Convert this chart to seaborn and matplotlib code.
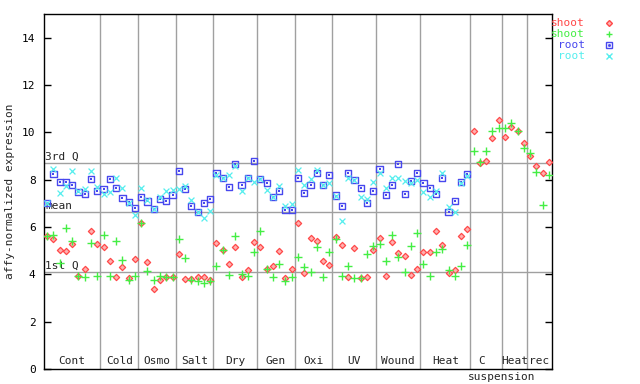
import numpy as np
import pandas as pd
import matplotlib
matplotlib.use('Agg')
import matplotlib.pyplot as plt
import seaborn as sns

# Grupos de condicoes e numero de amostras por grupo
grupos = ['Cont', 'Cold', 'Osmo', 'Salt', 'Dry', 'Gen', 'Oxi', 'UV', 'Wound', 'Heat', 'C', 'Heat', 'rec']
n_amostras = [9, 6, 6, 6, 7, 6, 6, 7, 7, 8, 5, 4, 4]

# Valores (shoot: 2 replicas, root: 2 replicas)
shoot_1 = [5.60, 5.49, 5.04, 4.99, 5.28, 3.91, 4.22, 5.85, 5.28,
           5.15, 4.57, 3.88, 4.30, 3.84, 4.64,
           6.19, 4.53, 3.39, 3.75, 3.88, 3.88,
           4.87, 3.79, 3.79, 3.88, 3.88, 3.74,
           5.32, 5.02, 4.43, 5.15, 3.88, 4.19, 5.36,
           5.15, 4.22, 4.34, 4.98, 3.84, 4.22,
           6.16, 4.05, 5.53, 5.40, 4.56, 4.39,
           5.57, 5.23, 3.88, 5.11, 3.84, 3.88, 5.02,
           5.53, 3.92, 5.36, 4.90, 4.77, 3.96, 4.22,
           4.94, 4.94, 5.82, 5.23, 4.05, 4.17, 5.61, 5.91,
           10.05, 8.72, 8.78, 9.76, 10.52,
           9.80, 10.22, 10.05, 9.54,
           8.99, 8.57, 8.27, 8.74]
shoot_2 = [5.60, 5.68, 4.50, 5.97, 5.39, 3.91, 3.88, 5.32, 3.92,
           5.67, 3.92, 5.39, 4.60, 3.74, 3.92,
           6.19, 4.13, 3.74, 3.92, 3.88, 3.88,
           5.49, 4.68, 3.75, 3.71, 3.62, 3.70,
           4.34, 5.02, 3.96, 5.63, 4.01, 3.92, 4.94,
           5.81, 4.22, 3.88, 4.43, 3.71, 3.88,
           4.73, 4.30, 4.09, 5.15, 3.88, 4.94,
           5.49, 3.92, 4.34, 3.84, 3.84, 4.85, 5.19,
           5.28, 4.56, 5.67, 4.73, 4.09, 5.19, 5.74,
           4.43, 3.92, 4.94, 5.06, 4.17, 3.92, 4.37, 5.23,
           9.21, 8.74, 9.21, 10.05, 10.18,
           10.18, 10.39, 10.05, 9.33,
           9.12, 8.32, 6.92, 8.19]
root_1 = [7.01, 8.24, 7.90, 7.90, 7.77, 7.49, 7.39, 8.04, 7.52,
          7.62, 8.04, 7.64, 7.22, 7.04, 6.81,
          7.28, 7.08, 6.76, 7.18, 7.09, 7.36,
          8.38, 7.60, 6.90, 6.63, 7.01, 7.19,
          8.28, 8.07, 7.69, 8.66, 7.77, 8.07, 8.80,
          8.02, 7.86, 7.28, 7.52, 6.71, 6.71,
          8.07, 7.43, 7.77, 8.28, 7.79, 8.19,
          7.33, 6.88, 8.28, 7.98, 7.64, 7.00, 7.52,
          8.45, 7.35, 7.77, 8.66, 7.39, 7.94, 8.28,
          7.85, 7.64, 7.39, 8.07, 6.63, 7.09, 7.90, 8.24]
root_2 = [7.00, 8.45, 7.43, 7.74, 8.38, 7.53, 7.62, 8.38, 7.70,
          7.40, 7.50, 8.08, 7.64, 7.01, 6.52,
          7.64, 7.12, 6.76, 7.26, 7.53, 7.56,
          7.60, 7.74, 7.14, 6.63, 6.38, 6.67,
          8.21, 8.07, 8.21, 8.59, 7.53, 8.07, 7.90,
          8.02, 7.56, 7.28, 7.74, 6.87, 6.97,
          8.42, 7.77, 8.02, 8.42, 7.79, 7.87,
          7.33, 6.25, 8.07, 7.98, 7.26, 7.18, 7.90,
          8.28, 7.64, 8.07, 8.07, 7.94, 7.86, 7.98,
          7.47, 7.26, 7.52, 8.28, 6.84, 6.63, 7.85, 8.15]

# Linhas de referencia
q3 = 8.71
media = 6.64
q1 = 4.10

n = sum(n_amostras)
x = np.arange(n) + 0.5
pad = [np.nan] * (n - len(root_1))

df = pd.DataFrame({'x': x,
                   'shoot_1': shoot_1,
                   'shoot_2': shoot_2,
                   'root_1': root_1 + pad,
                   'root_2': root_2 + pad})
df = df.melt(id_vars='x', var_name='serie', value_name='valor').dropna()

sns.set_style('white')
plt.rcParams['font.family'] = ['DejaVu Sans Mono']

vermelho = '#ff4848'
verde = '#44ee44'
azul = '#4848ee'
ciano = '#55eeee'
cinza = '#a0a0a0'

fig = plt.figure(figsize=(6.4, 3.84), dpi=100)
ax = fig.add_axes([44 / 640, 15 / 384, 508 / 640, 355 / 384])

# Separadores dos grupos
limites = np.cumsum(n_amostras)
for b in limites[:-1]:
    ax.axvline(b, color=cinza, lw=1, zorder=1)

# Linhas de quartis e media
for val, nome in [(q3, '3rd Q'), (media, 'mean'), (q1, '1st Q')]:
    ax.axhline(val, color=cinza, lw=1, zorder=1)
    ax.text(0.15, val + 0.05, nome, fontsize=8, ha='left', va='bottom', zorder=2)

# Pontos
sns.scatterplot(data=df[df.serie == 'root_1'], x='x', y='valor', marker='s', s=20,
                facecolor='none', edgecolor=azul, color=azul, linewidth=1.0, ax=ax, zorder=3)
sns.scatterplot(data=df[df.serie == 'root_1'], x='x', y='valor', marker='s', s=1.2,
                color=azul, linewidth=0, ax=ax, zorder=3)
sns.scatterplot(data=df[df.serie == 'root_2'], x='x', y='valor', marker='x', s=18,
                color=ciano, linewidth=0.9, ax=ax, zorder=3)
sns.scatterplot(data=df[df.serie == 'shoot_1'], x='x', y='valor', marker='D', s=10,
                facecolor='#ffb0b0', edgecolor=vermelho, color=vermelho, linewidth=0.9, ax=ax, zorder=3)
sns.scatterplot(data=df[df.serie == 'shoot_2'], x='x', y='valor', marker='+', s=26,
                color=verde, linewidth=1.0, ax=ax, zorder=3)

# Rotulos dos grupos
inicio = 0
for g, k in zip(grupos, n_amostras):
    cx = inicio + k / 2
    if g == 'C':
        cx = inicio + 1.8
    ax.text(cx, 0.12, g, fontsize=8, ha='center', va='bottom')
    inicio += k
ax.text(72.9, -0.12, 'suspension', fontsize=8, ha='center', va='top')

# Eixos
ax.set_xlim(0, n)
ax.set_ylim(0, 15)
ax.set_xticks([])
ax.set_yticks(range(0, 15, 2))
ax.tick_params(axis='y', direction='in', length=5, width=1, right=True, left=True,
               labelsize=8, colors='black', pad=6)
ax.set_xlabel('')
ax.set_ylabel('affy-normalized expression', fontsize=8, labelpad=5)
for s in ax.spines.values():
    s.set_color('black')
    s.set_linewidth(1)
if ax.get_legend() is not None:
    ax.get_legend().remove()

# Legenda manual
legenda = [('shoot', vermelho, 'D', '#ffb0b0'), ('shoot', verde, '+', None),
           ('root', azul, 's', 'none'), ('root', ciano, 'x', None)]
for j, (nome, cor, mk, fc) in enumerate(legenda):
    yy = (369 - 23 - 11 * j) / 355
    ax.text(1.065, yy, nome, color=cor, fontsize=8, ha='right', va='center', transform=ax.transAxes)
    if fc is None:
        ax.plot([1.112], [yy], marker=mk, color=cor, ms=4.5, mew=1.0, ls='none',
                transform=ax.transAxes, clip_on=False)
    else:
        ax.plot([1.112], [yy], marker=mk, mfc=fc, mec=cor, ms=4 if mk == 's' else 3, mew=1.0,
                ls='none', transform=ax.transAxes, clip_on=False)
        if mk == 's':
            ax.plot([1.112], [yy], marker='s', color=cor, ms=1, ls='none',
                    transform=ax.transAxes, clip_on=False)

plt.savefig('out.png', dpi=100)
